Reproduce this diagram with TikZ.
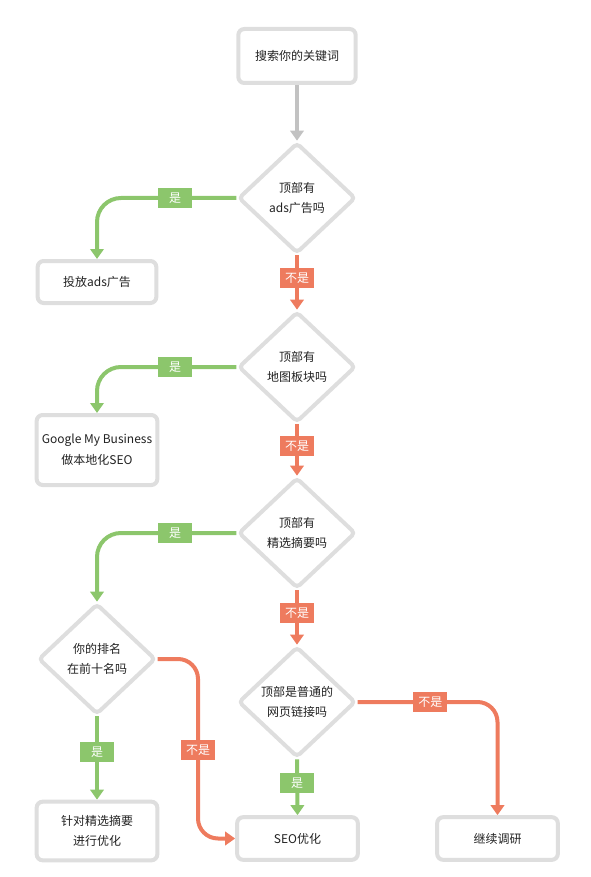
\documentclass[tikz,border=0pt]{standalone}
\usepackage{fontspec}
\setmainfont{Noto Sans CJK SC}
\usetikzlibrary{shapes.geometric,arrows.meta}
\definecolor{gr}{HTML}{8CC66C}
\definecolor{orn}{HTML}{EE7B5E}
\definecolor{bd}{HTML}{DEDEDE}
\definecolor{gy}{HTML}{C2C2C2}
\definecolor{tx}{HTML}{222222}
\pgfdeclarelayer{bg}
\pgfsetlayers{bg,main}
\begin{document}
\begin{tikzpicture}[x=0.75pt,y=-0.75pt,
  txt/.style={text=tx, font=\fontsize{9}{15.5}\selectfont, align=center, inner sep=0pt},
  box/.style={txt, draw=bd, line width=3pt, fill=white, rounded corners=4.5pt, minimum width=90.5pt},
  dia/.style={txt, diamond, draw=bd, line width=3pt, fill=white, rounded corners=3pt, minimum width=88pt, minimum height=83pt},
  lbl/.style={sharp corners, inner sep=0pt, minimum width=25.5pt, minimum height=15pt, text=white, font=\fontsize{9}{10}\selectfont},
  tip/.style={-{Triangle[width=10pt,length=7.5pt]}},
  yes/.style={draw=gr, line width=3pt, tip, rounded corners=18pt},
  no/.style={draw=orn, line width=3pt, tip, rounded corners=15pt},
  grey/.style={draw=gy, line width=3pt, tip}]
\useasboundingbox (0,0) rectangle (590,877);
\node[box, minimum width=88pt, minimum height=40.5pt] (top) at (297,56) {搜索你的关键词};
\node[dia] (d1) at (297,198) {顶部有\\ads广告吗};
\node[box, minimum width=89pt, minimum height=31.5pt] (b1) at (97,282) {投放ads广告};
\node[dia] (d2) at (297,367) {顶部有\\地图板块吗};
\node[box, minimum height=52.5pt] (b2) at (97,450) {Google My Business\\做本地化SEO};
\node[dia] (d3) at (297,533) {顶部有\\精选摘要吗};
\node[dia] (d4) at (97,659) {你的排名\\在前十名吗};
\node[dia] (d5) at (297,702) {顶部是普通的\\网页链接吗};
\node[box, minimum height=44pt] (lb) at (97,831) {针对精选摘要\\进行优化};
\node[box, minimum height=32pt] (seo) at (297.5,838.5) {SEO优化};
\node[box, minimum height=32pt] (cont) at (497.5,838.5) {继续调研};
\coordinate (k) at (198,750);
\begin{pgfonlayer}{bg}
\draw[grey] (top.south) -- (d1.north);
\draw[yes] (d1.west) -| node[lbl, fill=gr, pos=0.22] (y1) {是} (b1.north);
\draw[no] (d1.south) -- node[lbl, fill=orn, pos=0.42] (n1) {不是} (d2.north);
\draw[yes] (d2.west) -| node[lbl, fill=gr, pos=0.22] (y2) {是} (b2.north);
\draw[no] (d2.south) -- node[lbl, fill=orn, pos=0.42] (n2) {不是} (d3.north);
\draw[yes] (d3.west) -| node[lbl, fill=gr, pos=0.22] (y3) {是} (d4.north);
\draw[no] (d3.south) -- node[lbl, fill=orn, pos=0.42] (n3) {不是} (d5.north);
\draw[yes] (d4.south) -- node[lbl, fill=gr, pos=0.43] (y4) {是} (lb.north);
\draw[no] (d4.east) -| (k) |- (seo.west);
\node[lbl, fill=orn] (n4) at (k) {不是};
\draw[yes] (d5.south) -- node[lbl, fill=gr, pos=0.42] (y5) {是} (seo.north);
\draw[no] (d5.east) -| node[lbl, fill=orn, pos=0.26] (n5) {不是} (cont.north);
\end{pgfonlayer}
\end{tikzpicture}
\end{document}
